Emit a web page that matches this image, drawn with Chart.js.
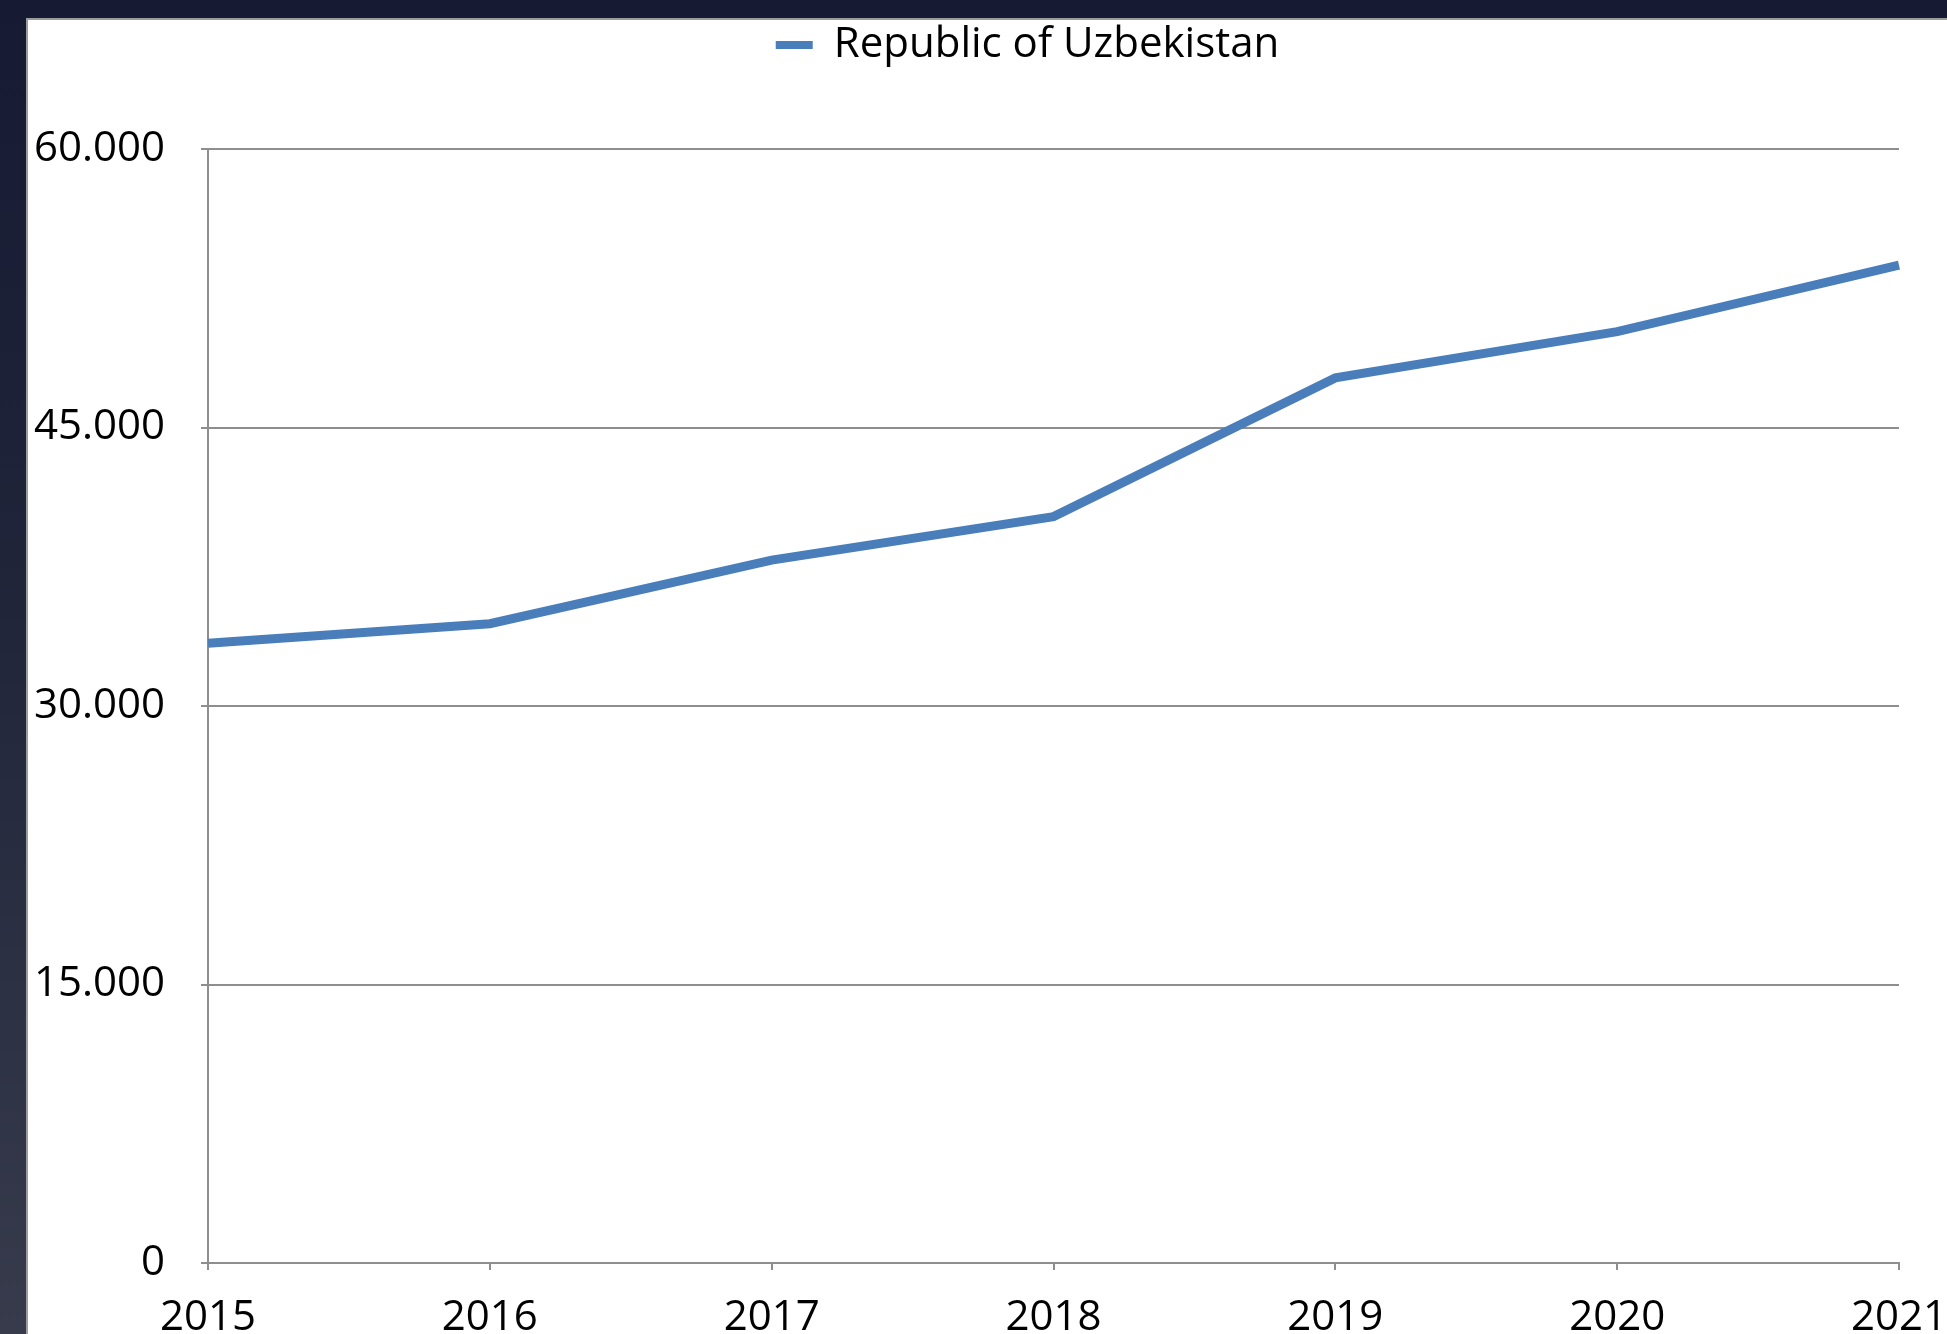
<!DOCTYPE html>
<html>
<head>
<meta charset="utf-8">
<script src="https://cdn.jsdelivr.net/npm/chart.js@4.4.0/dist/chart.umd.min.js"></script>
<style>
	html, body { margin: 0; padding: 0; }
	body {
		width: 1947px; height: 1334px; overflow: hidden; position: relative;
		background: linear-gradient(to bottom, #161a33 0%, #20253a 45%, #373b4c 100%);
	}
	#panel {
		position: absolute; left: 26px; top: 18px; right: 0; bottom: 0;
		background: #fff;
		border-top: 2px solid #9c9c9c;
		border-left: 2px solid #9c9c9c;
	}
	#myChart { position: absolute; left: 0; top: 0; }
</style>
</head>
<body>
<div id="panel">
	<canvas id="myChart" width="1919" height="1314"></canvas>
</div>
<script>
	// 데이터
	var labels = ['2015', '2016', '2017', '2018', '2019', '2020', '2021'];
	var uzbekistan = [33380, 34430, 37860, 40200, 47670, 50160, 53750];
	var seriesName = 'Republic of Uzbekistan';
	var yTicks = [0, 15000, 30000, 45000, 60000];

	var gridColor = '#8e8e8e';
	var lineColor = '#4a7ebb';

	// 범례 높이 고정 + 위치 보정
	var legendFix = {
		id: 'legendFix',
		beforeInit: function(chart) {
			var fit = chart.legend.fit;
			chart.legend.fit = function() {
				fit.bind(chart.legend)();
				this.height = 129;
			};
		},
		afterLayout: function(chart) {
			chart.legend.left += 40;
			chart.legend.right += 40;
		}
	};

	var ctx = document.getElementById('myChart').getContext('2d');

	window.chart_main = new Chart(ctx, {
		type: 'line',
		data: {
			labels: labels,
			datasets: [{
				label: seriesName,
				data: uzbekistan,
				borderColor: lineColor,
				backgroundColor: lineColor,
				borderWidth: 9,
				pointRadius: 0,
				tension: 0
			}]
		},
		options: {
			responsive: false,
			animation: false,
			layout: { padding: 0 },
			plugins: {
				legend: {
					display: true,
					position: 'top',
					labels: {
						color: '#000',
						font: { family: 'Open Sans', size: 42 },
						boxWidth: 37,
						boxHeight: 8,
						padding: 4,
						generateLabels: function(chart) {
							return chart.data.datasets.map(function(ds, i) {
								return {
									text: ds.label,
									fillStyle: ds.borderColor,
									strokeStyle: ds.borderColor,
									lineWidth: 0,
									hidden: false,
									datasetIndex: i
								};
							});
						}
					}
				},
				tooltip: { enabled: false }
			},
			scales: {
				x: {
					grid: {
						display: true,
						drawOnChartArea: false,
						drawTicks: true,
						tickLength: 7,
						color: gridColor,
						lineWidth: 2
					},
					border: { display: true, color: gridColor, width: 2 },
					ticks: {
						color: '#000',
						font: { family: 'Open Sans', size: 42 },
						padding: 23,
						maxRotation: 0,
						autoSkip: false
					},
					afterFit: function(scale) {
						scale.height = 71;
						scale.paddingLeft = 0;
						scale.paddingRight = 48;
					}
				},
				y: {
					min: 0,
					max: 60000,
					afterBuildTicks: function(scale) {
						scale.ticks = yTicks.map(function(v) { return { value: v }; });
					},
					grid: {
						display: true,
						drawOnChartArea: true,
						drawTicks: true,
						tickLength: 7,
						color: gridColor,
						lineWidth: 2
					},
					border: { display: true, color: gridColor, width: 2 },
					ticks: {
						color: '#000',
						font: { family: 'Open Sans', size: 42 },
						padding: 36,
						callback: function(value) {
							return value.toLocaleString('de-DE');
						}
					},
					afterFit: function(scale) {
						scale.width = 180;
					}
				}
			}
		},
		plugins: [legendFix]
	});
</script>
</body>
</html>
